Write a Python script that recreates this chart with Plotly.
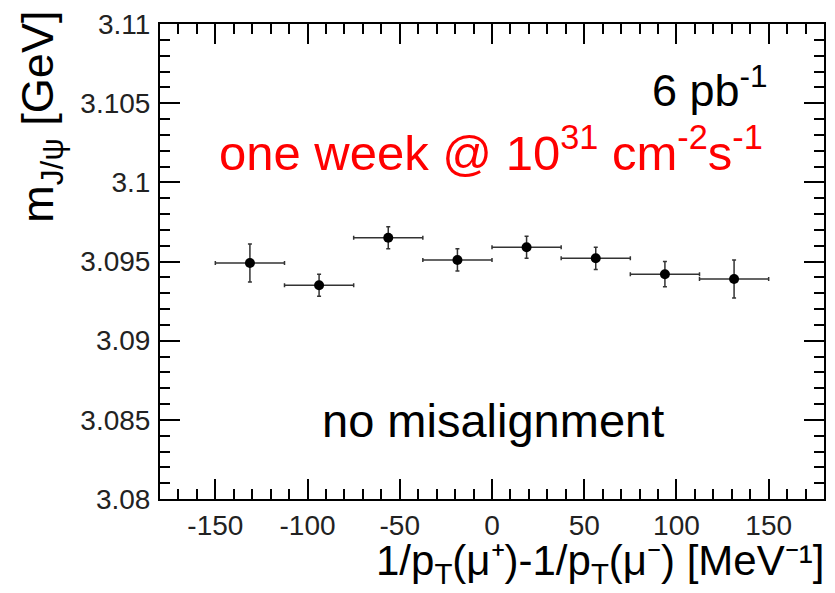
import plotly.graph_objects as go

# Data
bin_centers = [-131.25, -93.75, -56.25, -18.75, 18.75, 56.25, 93.75, 131.25]
bin_half_width = [18.75] * 8
mass = [3.0949, 3.0935, 3.0965, 3.0951, 3.0959, 3.0952, 3.0942, 3.0939]
mass_err = [0.0012, 0.0007, 0.0007, 0.0007, 0.0007, 0.0007, 0.0008, 0.0012]

y_tickvals = [3.08, 3.085, 3.09, 3.095, 3.1, 3.105, 3.11]
y_ticktext = ["3.08", "3.085", "3.09", "3.095", "3.1", "3.105", "3.11"]
x_tickvals = [-150, -100, -50, 0, 50, 100, 150]
x_ticktext = ["-150", "-100", "-50", "0", "50", "100", "150"]

FONT = "Liberation Sans, Arial, sans-serif"

fig = go.Figure()
fig.add_trace(go.Scatter(
    x=bin_centers, y=mass, mode="markers",
    marker=dict(color="black", size=10),
    error_y=dict(type="data", array=mass_err, visible=True,
                 color="#333", thickness=1.5, width=2),
    error_x=dict(type="data", array=bin_half_width, visible=True,
                 color="#333", thickness=1.5, width=2),
    showlegend=False,
))

axis_common = dict(
    showline=True, linecolor="black", linewidth=2, mirror="allticks",
    ticks="inside", ticklen=20, tickwidth=1.5, tickcolor="black",
    showgrid=False, zeroline=False,
    tickfont=dict(family=FONT, size=28, color="#222"),
)

fig.update_xaxes(range=[-180, 180], tickvals=x_tickvals, ticktext=x_ticktext,
                 ticklabelstandoff=0,
                 minor=dict(ticks="inside", ticklen=10, tickwidth=1.5,
                            tickcolor="black", dtick=10, tick0=0, showgrid=False),
                 **axis_common)
fig.update_yaxes(range=[3.08, 3.11], tickvals=y_tickvals, ticktext=y_ticktext,
                 ticklabelstandoff=2,
                 minor=dict(ticks="inside", ticklen=10, tickwidth=1.5,
                            tickcolor="black", dtick=0.001, tick0=3.08, showgrid=False),
                 **axis_common)

W, H = 835, 593
L, R, T, B = 160, 9, 16, 94
pw, ph = W - L - R, H - T - B

def px(x):
    return (x - L) / pw

def py(y):
    return (H - B - y) / ph

annotations = [
    dict(text="6 pb<sup>-1</sup>", x=px(772), y=py(80), xanchor="right", yanchor="middle",
         font=dict(family=FONT, size=45, color="black")),
    dict(text="one week @ 10<sup>31</sup> cm<sup>-2</sup>s<sup>-1</sup>", x=px(492), y=py(143),
         xanchor="center", yanchor="middle",
         font=dict(family=FONT, size=49, color="red")),
    dict(text="no misalignment", x=px(494), y=py(419), xanchor="center", yanchor="middle",
         font=dict(family=FONT, size=47, color="black")),
    dict(text="1/p<sub>T</sub>(μ⁺)-1/p<sub>T</sub>(μ⁻) [MeV⁻¹]",
         x=px(828), y=py(565), xanchor="right", yanchor="middle",
         font=dict(family=FONT, size=42, color="black")),
    dict(text="m<sub>J/ψ</sub> [GeV]", x=px(40), y=py(0), xanchor="center", yanchor="top",
         textangle=-90, font=dict(family=FONT, size=45, color="black")),
]
for a in annotations:
    a.update(xref="paper", yref="paper", showarrow=False)

fig.update_layout(
    width=W, height=H,
    margin=dict(l=L, r=R, t=T, b=B),
    paper_bgcolor="white", plot_bgcolor="white",
    annotations=annotations,
    font=dict(family=FONT),
)

fig.write_html("out.html")
